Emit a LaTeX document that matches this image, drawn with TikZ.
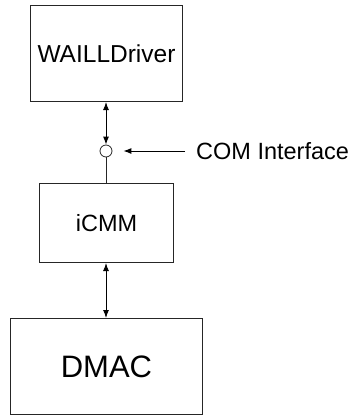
\documentclass[tikz,border=0pt]{standalone}
\usepackage{fontspec}
\setmainfont{Liberation Sans}
\usetikzlibrary{arrows.meta}
\begin{document}
\begin{tikzpicture}[x=1pt,y=-1pt,
  box/.style={draw=black!85,line width=1pt,inner sep=0pt,anchor=north west},
  conn/.style={line width=1pt,{Latex[length=8pt,width=6pt]}-{Latex[length=8pt,width=6pt]}},
  plain/.style={line width=1pt,draw=black!85}]
\useasboundingbox (0,0) rectangle (353,415);
\node[box,minimum width=152pt,minimum height=96pt] (drv) at (30,5) {};
\node[font=\fontsize{24.5}{28}\selectfont] at (drv.center) {WAILLDriver};
\node[draw=black!85,line width=0.8pt,circle,minimum size=12pt,inner sep=0pt] (com) at (106,151) {};
\node[box,minimum width=134pt,minimum height=79pt] (icmm) at (39,183) {};
\node[font=\fontsize{23.5}{28}\selectfont] at (icmm.center) {iCMM};
\node[box,minimum width=192pt,minimum height=96pt] (dmac) at (10,318) {};
\node[font=\fontsize{31}{36}\selectfont] at (dmac.center) {DMAC};
\node[font=\fontsize{23.5}{28}\selectfont,anchor=west,inner sep=0pt] (lbl) at (196,151) {COM Interface};
\coordinate (ca) at ([xshift=-11pt]lbl.west);
\coordinate (cb) at ([xshift=11pt]com.east);
\draw[conn] (drv.south -| com) -- (com.north);
\draw[plain] (com.south) -- (icmm.north -| com);
\draw[conn] (icmm.south -| com) -- (dmac.north -| com);
\draw[line width=1pt,-{Latex[length=8pt,width=6pt]}] (ca) -- (cb);
\end{tikzpicture}
\end{document}
